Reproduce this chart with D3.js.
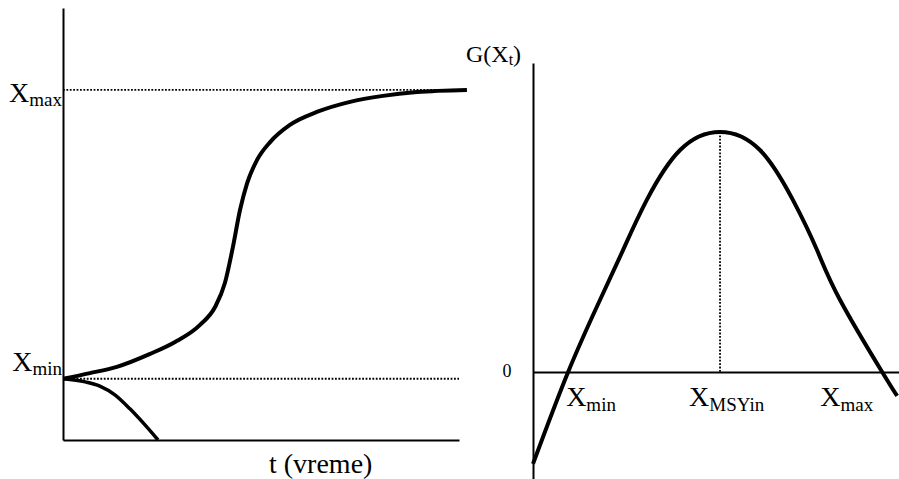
<!DOCTYPE html>
<html>
<head>
<meta charset="utf-8">
<script src="https://cdn.jsdelivr.net/npm/d3@7/dist/d3.min.js"></script>
<style>
  html, body { margin: 0; padding: 0; background: #fff; }
  svg { display: block; }
  text { font-family: "Liberation Serif", "Times New Roman", serif; fill: #000; }
</style>
</head>
<body>
<svg id="chart" width="899" height="479"></svg>
<script>
// ---- Left panel: population X over time t ----
const tGrowth = [0, 6.8, 13.6, 22.0, 28.3, 34.6, 38.4, 40.9, 42.9, 44.7, 46.5, 49.0, 52.3, 57.3, 64.1, 72.5, 80.8, 89.4, 102.0];
const xGrowth = [17.5, 19.1, 20.9, 24.6, 28.0, 32.9, 38.0, 44.9, 55.1, 65.7, 73.4, 80.0, 85.1, 90.0, 93.7, 96.6, 98.3, 99.4, 100.0];
const tDecline = [0, 5.6, 9.3, 13.1, 16.9, 20.7, 24.0];
const xDecline = [17.5, 16.6, 15.4, 12.9, 8.9, 4.3, 0];
const xMinLevel = 17.5;
const xMaxLevel = 100;
const leftTickLabels = [
  { value: xMaxLevel, base: "X", sub: "max" },
  { value: xMinLevel, base: "X", sub: "min" }
];
const leftXTitle = "t (vreme)";

// ---- Right panel: growth G(X_t) against stock X ----
const stockX = [0, 9.6, 18.3, 24.6, 31.1, 40.2, 51.1, 62.0, 71.0, 77.6, 83.9, 95.4, 99.5];
const growthG = [-38.3, 0, 30.0, 50.8, 71.7, 92.5, 100, 92.5, 71.7, 50.8, 30.0, 0, -10.0];
const xMsy = 51.1;
const gMax = 100;
const rightTickLabels = [
  { value: 9.6, base: "X", sub: "min" },
  { value: 51.1, base: "X", sub: "MSYin" },
  { value: 95.4, base: "X", sub: "max" }
];
const rightZeroLabel = "0";
const rightYTitle = { base: "G(X", sub: "t", tail: ")" };

const svg = d3.select("#chart");

// Scales
const xL = d3.scaleLinear().domain([0, 100]).range([63, 459]);
const yL = d3.scaleLinear().domain([0, 123.4]).range([440, 8]);
const xR = d3.scaleLinear().domain([0, 100]).range([533, 899]);
const yR = d3.scaleLinear().domain([-44.6, 128.75]).range([479, 63]);

// Axis lines drawn with d3 axes, no ticks
function bareAxis(g) {
  g.selectAll(".tick").remove();
  g.select(".domain").attr("stroke", "#000").attr("stroke-width", 2);
}
svg.append("g").attr("transform", `translate(${xL(0)},0)`)
  .call(d3.axisLeft(yL).tickValues([]).tickSizeOuter(0)).call(bareAxis);
svg.append("g").attr("transform", `translate(0,${yL(0)})`)
  .call(d3.axisBottom(xL).tickValues([]).tickSizeOuter(0)).call(bareAxis);
svg.append("g").attr("transform", `translate(${xR(0)},0)`)
  .call(d3.axisLeft(yR).tickValues([]).tickSizeOuter(0)).call(bareAxis);
svg.append("g").attr("transform", `translate(0,${yR(0)})`)
  .call(d3.axisBottom(xR).tickValues([]).tickSizeOuter(0)).call(bareAxis);

// Dotted reference lines
function dottedLine(x1, y1, x2, y2) {
  svg.append("line").attr("x1", x1).attr("y1", y1).attr("x2", x2).attr("y2", y2)
    .attr("stroke", "#000").attr("stroke-width", 1.8).attr("stroke-dasharray", "1.8,1.6");
}
dottedLine(xL(0), yL(xMaxLevel), xL(94.7), yL(xMaxLevel));
dottedLine(xL(0), yL(xMinLevel), xL(100), yL(xMinLevel));
dottedLine(xR(xMsy), yR(gMax), xR(xMsy), yR(0));

// Curves
const lineL = d3.line().x(d => xL(d[0])).y(d => yL(d[1])).curve(d3.curveMonotoneX);
const lineR = d3.line().x(d => xR(d[0])).y(d => yR(d[1])).curve(d3.curveNatural);

svg.append("path").attr("d", lineL(d3.zip(tGrowth, xGrowth)))
  .attr("fill", "none").attr("stroke", "#000").attr("stroke-width", 4);
svg.append("path").attr("d", lineL(d3.zip(tDecline, xDecline)))
  .attr("fill", "none").attr("stroke", "#000").attr("stroke-width", 3.5);
svg.append("path").attr("d", lineR(d3.zip(stockX, growthG)))
  .attr("fill", "none").attr("stroke", "#000").attr("stroke-width", 4);

// Labels with subscripts
function subLabel(x, y, base, sub, anchor, size, subSize, subShift) {
  const t = svg.append("text").attr("x", x).attr("y", y)
    .attr("text-anchor", anchor).style("font-size", size + "px");
  t.append("tspan").text(base);
  t.append("tspan").attr("dy", subShift).style("font-size", subSize + "px").text(sub);
  return t;
}

// Left axis labels
const leftLabelDy = { max: 12, min: -8 };
leftTickLabels.forEach(d => {
  subLabel(xL(0) - 1, yL(d.value) + leftLabelDy[d.sub], d.base, d.sub, "end", 28, 19, 4);
});
svg.append("text").attr("x", 269).attr("y", 473)
  .style("font-size", "28px").text(leftXTitle);

// Right axis labels: min starts at its crossing, MSY sits on its line, max ends before its crossing
const rightPlace = {
  min: { anchor: "start", dx: -2 },
  MSYin: { anchor: "start", dx: -31 },
  max: { anchor: "end", dx: -9 }
};
rightTickLabels.forEach(d => {
  const p = rightPlace[d.sub];
  subLabel(xR(d.value) + p.dx, yR(0) + 34, d.base, d.sub, p.anchor, 28, 19, 5);
});
svg.append("text").attr("x", xR(0) - 26).attr("y", yR(0) + 5)
  .attr("text-anchor", "middle").style("font-size", "18px").text(rightZeroLabel);

const gt = svg.append("text").attr("x", 466).attr("y", 62).style("font-size", "24px");
gt.append("tspan").text(rightYTitle.base);
gt.append("tspan").attr("dy", 3).style("font-size", "16px").text(rightYTitle.sub);
gt.append("tspan").attr("dy", -3).text(rightYTitle.tail);
</script>
</body>
</html>
